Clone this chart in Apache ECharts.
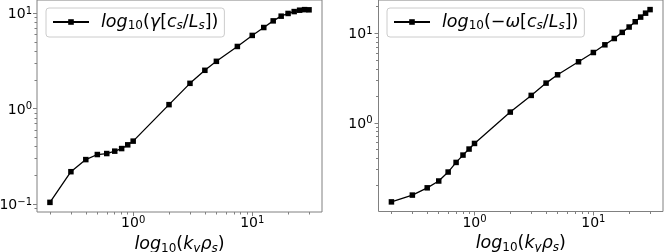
<!DOCTYPE html>
<html><head><meta charset="utf-8">
<script src="https://cdn.jsdelivr.net/npm/echarts@6/dist/echarts.min.js"></script>
<style>html,body{margin:0;padding:0;background:#fff}#c{width:664px;height:252px}</style>
</head><body><div id="c"></div>
<script>
// ---- data (raw values, plotted on log10 scales) ----
const kyRho = [0.2,0.3,0.4,0.5,0.6,0.7,0.8,0.9,1.0,2,3,4,5,7.5,10,12.5,15,17.5,20,22.5,25,27.5,30];
const gamma = [0.104,0.218,0.292,0.330,0.338,0.358,0.381,0.417,0.456,1.10,1.84,2.52,3.13,4.48,5.85,7.08,8.31,9.31,9.94,10.4,10.75,10.9,10.85];
const omega = [0.131,0.156,0.188,0.224,0.282,0.361,0.436,0.509,0.588,1.316,2.02,2.77,3.43,4.79,6.08,7.41,8.71,10.2,11.7,13.4,15.1,16.7,18.3];
const xMajorExp = [0, 1];
const leftYMajorExp = [-1, 0, 1];
const rightYMajorExp = [0, 1];
const minorMantissas = [2,3,4,5,6,7,8,9];

const FONT = 'DejaVu Sans';
const lg = v => Math.log10(v);
function logRange(arr){ const a = arr.map(lg); const lo = Math.min(...a), hi = Math.max(...a); const m = (hi-lo)*0.05; return [lo-m, hi+m]; }
function minorTicks(r){ const out=[]; for(let e=Math.floor(r[0])-1; e<=Math.ceil(r[1]); e++){ for(const m of minorMantissas){ const v=Math.log10(m)+e; if(v>=r[0]&&v<=r[1]) out.push(v);} } return out; }

const xr = logRange(kyRho), ylr = logRange(gamma), yrr = logRange(omega);

const tickRich = {
  b: {fontSize:14, fontFamily:FONT, color:'#000', verticalAlign:'middle'},
  sup: {fontSize:10, fontFamily:FONT, color:'#000', verticalAlign:'middle', padding:[0,0,7,0]}
};
const expFmt = v => { const n = Math.round(v); return '{b|10}{sup|' + (n<0 ? '\u2212'+(-n) : n) + '}'; };

const nameRich = {
  i: {fontSize:17.5, fontFamily:FONT, fontStyle:'italic', color:'#000', verticalAlign:'middle'},
  r: {fontSize:17.5, fontFamily:FONT, color:'#000', verticalAlign:'middle'},
  sub: {fontSize:12, fontFamily:FONT, color:'#000', verticalAlign:'middle', padding:[8,0,0,0]},
  isub: {fontSize:12, fontFamily:FONT, fontStyle:'italic', color:'#000', verticalAlign:'middle', padding:[8,0,0,0]},
  sp: {width:7}
};
const xName = '{i|log}{sub|10}{r|(}{i|k}{isub|y}{i|ρ}{isub|s}{r|)}';
const legendText = {
  gamma: '{sp|}{i|log}{sub|10}{r|(}{i|γ}{r|[}{i|c}{isub|s}{r|/}{i|L}{isub|s}{r|])}',
  omega: '{sp|}{i|log}{sub|10}{r|(\u2212}{i|ω}{r|[}{i|c}{isub|s}{r|/}{i|L}{isub|s}{r|])}'
};

const AX = '#808080';
function majorX(grid){
  return {type:'value', gridIndex:grid, position:'bottom', min:xr[0], max:xr[1],
    axisLine:{show:false, onZero:false}, splitLine:{show:false},
    axisTick:{show:true, length:4, customValues:xMajorExp, lineStyle:{color:AX}},
    axisLabel:{show:true, margin:3, customValues:xMajorExp, formatter:expFmt, rich:tickRich},
    name:xName, nameLocation:'middle', nameGap:18, nameTextStyle:{rich:nameRich}};
}
function minorX(grid){
  return {type:'value', gridIndex:grid, position:'bottom', min:xr[0], max:xr[1],
    axisLine:{show:false, onZero:false}, splitLine:{show:false}, axisLabel:{show:false},
    axisTick:{show:true, length:2.5, customValues:minorTicks(xr), lineStyle:{color:AX}}};
}
function majorY(grid, r, exps, margin){
  return {type:'value', gridIndex:grid, position:'left', min:r[0], max:r[1],
    axisLine:{show:false, onZero:false}, splitLine:{show:false},
    axisTick:{show:true, length:4, customValues:exps, lineStyle:{color:AX}},
    axisLabel:{show:true, margin:margin, padding:[3,0,0,0], customValues:exps, formatter:expFmt, rich:tickRich}};
}
function minorY(grid, r){
  return {type:'value', gridIndex:grid, position:'left', min:r[0], max:r[1],
    axisLine:{show:false, onZero:false}, splitLine:{show:false}, axisLabel:{show:false},
    axisTick:{show:true, length:2.5, customValues:minorTicks(r), lineStyle:{color:AX}}};
}

const chart = echarts.init(document.getElementById('c'), null, {renderer:'canvas'});
chart.setOption({
  animation:false,
  backgroundColor:'#fff',
  grid:[
    {left:37, top:0, width:285, height:212, show:true, borderColor:AX, borderWidth:1, backgroundColor:'transparent', containLabel:false, outerBoundsMode:'none'},
    {left:378.5, top:0, width:284.5, height:211.5, show:true, borderColor:AX, borderWidth:1, backgroundColor:'transparent', containLabel:false, outerBoundsMode:'none'}
  ],
  xAxis:[majorX(0), minorX(0), majorX(1), minorX(1)],
  yAxis:[majorY(0, ylr, leftYMajorExp, 5), minorY(0, ylr), majorY(1, yrr, rightYMajorExp, 6), minorY(1, yrr)],
  legend:[
    {data:['gamma'], left:46, top:8, padding:[5,6,5,6], itemWidth:36, itemHeight:7,
     backgroundColor:'rgba(255,255,255,0.8)', borderColor:'#cccccc', borderWidth:1, borderRadius:3,
     formatter: n => legendText[n], textStyle:{rich:nameRich}},
    {data:['omega'], left:387, top:8, padding:[5,6,5,6], itemWidth:36, itemHeight:7,
     backgroundColor:'rgba(255,255,255,0.8)', borderColor:'#cccccc', borderWidth:1, borderRadius:3,
     formatter: n => legendText[n], textStyle:{rich:nameRich}}
  ],
  series:[
    {name:'gamma', type:'line', xAxisIndex:0, yAxisIndex:0,
     data: kyRho.map((k,i)=>[lg(k), lg(gamma[i])]),
     symbol:'rect', symbolSize:5.5, itemStyle:{color:'#000'}, lineStyle:{color:'#000', width:1.3}},
    {name:'omega', type:'line', xAxisIndex:2, yAxisIndex:2,
     data: kyRho.map((k,i)=>[lg(k), lg(omega[i])]),
     symbol:'rect', symbolSize:5.5, itemStyle:{color:'#000'}, lineStyle:{color:'#000', width:1.3}}
  ]
});
</script></body></html>
